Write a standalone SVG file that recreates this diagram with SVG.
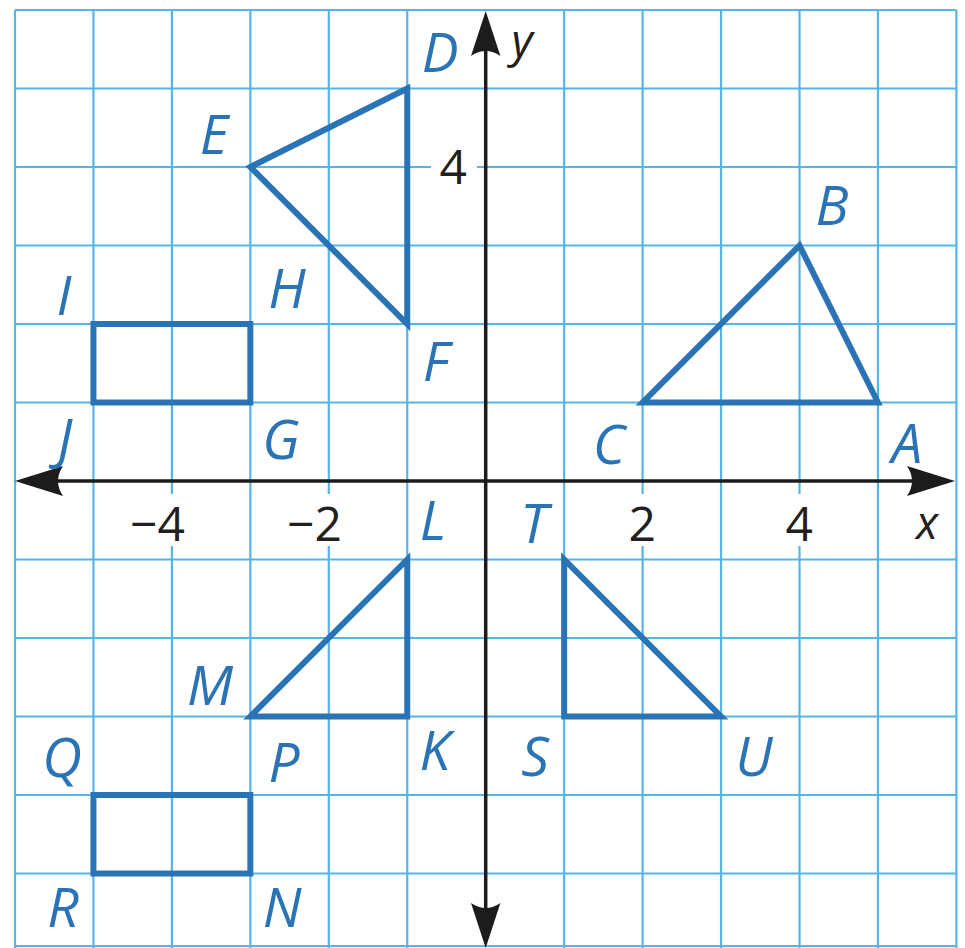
<svg xmlns="http://www.w3.org/2000/svg" width="965" height="948" viewBox="0 0 965 948">
<style>
.grid line{stroke:#55b6e5;stroke-width:2.2}
.mask{fill:#ffffff}
.fig{fill:none;stroke:#2a74b6;stroke-width:6;stroke-linejoin:miter}
.lbl{font-family:"Open Sans","Noto Sans","Liberation Sans",sans-serif;font-style:italic;font-size:55px;fill:#2a74b6;text-anchor:middle}
.num{font-family:"Open Sans","Noto Sans","Liberation Sans",sans-serif;font-size:48px;fill:#231f20;text-anchor:end}
.var{font-family:"Open Sans","Noto Sans","Liberation Sans",sans-serif;font-style:italic;font-size:46px;fill:#231f20;text-anchor:middle}
.axis{stroke:#1c1c1c;stroke-width:3.5;fill:none}
.head{fill:#1c1c1c;stroke:none}
</style>
<rect width="965" height="948" fill="#ffffff"/>
<g id="grid" class="grid">
<line x1="15" y1="10" x2="15" y2="952"/>
<line x1="93.45" y1="10" x2="93.45" y2="952"/>
<line x1="171.9" y1="10" x2="171.9" y2="952"/>
<line x1="250.35" y1="10" x2="250.35" y2="952"/>
<line x1="328.8" y1="10" x2="328.8" y2="952"/>
<line x1="407.25" y1="10" x2="407.25" y2="952"/>
<line x1="564.15" y1="10" x2="564.15" y2="952"/>
<line x1="642.6" y1="10" x2="642.6" y2="952"/>
<line x1="721.05" y1="10" x2="721.05" y2="952"/>
<line x1="799.5" y1="10" x2="799.5" y2="952"/>
<line x1="877.95" y1="10" x2="877.95" y2="952"/>
<line x1="956.4" y1="10" x2="956.4" y2="952"/>
<line x1="15" y1="10" x2="956.4" y2="10"/>
<line x1="15" y1="88.5" x2="956.4" y2="88.5"/>
<line x1="15" y1="167" x2="956.4" y2="167"/>
<line x1="15" y1="245.5" x2="956.4" y2="245.5"/>
<line x1="15" y1="324" x2="956.4" y2="324"/>
<line x1="15" y1="402.5" x2="956.4" y2="402.5"/>
<line x1="15" y1="559.5" x2="956.4" y2="559.5"/>
<line x1="15" y1="638" x2="956.4" y2="638"/>
<line x1="15" y1="716.5" x2="956.4" y2="716.5"/>
<line x1="15" y1="795" x2="956.4" y2="795"/>
<line x1="15" y1="873.5" x2="956.4" y2="873.5"/>
<line x1="15" y1="946" x2="956.4" y2="946"/>
</g>
<g id="label-masks" class="mask">
<rect x="117" y="494" width="72" height="52"/>
<rect x="274" y="494" width="70" height="52"/>
<rect x="625" y="494" width="35" height="52"/>
<rect x="781" y="494" width="36" height="52"/>
<rect x="431" y="146" width="46" height="44"/>
</g>
<g id="axes">
<line class="axis" x1="55" y1="481" x2="915" y2="481"/>
<line class="axis" x1="485.7" y1="50" x2="485.7" y2="910"/>
<path class="head" d="M955,481 L907,466 Q917,481 907,496 Z"/>
<path class="head" d="M15,481 L63,466 Q53,481 63,496 Z"/>
<path class="head" d="M485.7,11 L471,56 Q485.7,46 500.4,56 Z"/>
<path class="head" d="M485.7,948 L471,903 Q485.7,913 500.4,903 Z"/>
<text class="num" x="185" y="541">−4</text>
<text class="num" x="342" y="541">−2</text>
<text class="num" x="656" y="541">2</text>
<text class="num" x="813" y="541">4</text>
<text class="num" x="467" y="184">4</text>
<text class="var" x="927" y="539">x</text>
<text class="var" x="522" y="57">y</text>
</g>
<g id="triangle-ABC">
<polygon class="fig" points="877.95,402.5 799.5,245.5 642.6,402.5"/>
<text class="lbl" x="907" y="463">A</text>
<text class="lbl" x="832" y="225">B</text>
<text class="lbl" x="609" y="464">C</text>
</g>
<g id="triangle-DEF">
<polygon class="fig" points="407.25,88.5 250.35,167 407.25,324"/>
<text class="lbl" x="440" y="72">D</text>
<text class="lbl" x="214" y="154">E</text>
<text class="lbl" x="436" y="381">F</text>
</g>
<g id="rectangle-IHGJ">
<rect class="fig" x="93.45" y="324" width="156.9" height="78.5"/>
<text class="lbl" x="64" y="315">I</text>
<text class="lbl" x="287" y="308">H</text>
<text class="lbl" x="281" y="459">G</text>
<text class="lbl" x="65" y="458">J</text>
</g>
<g id="triangle-LMK">
<polygon class="fig" points="407.25,559.5 250.35,716.5 407.25,716.5"/>
<text class="lbl" x="433" y="540">L</text>
<text class="lbl" x="210" y="705">M</text>
<text class="lbl" x="435" y="770">K</text>
</g>
<g id="triangle-TSU">
<polygon class="fig" points="564.15,559.5 564.15,716.5 721.05,716.5"/>
<text class="lbl" x="534" y="543">T</text>
<text class="lbl" x="535" y="776">S</text>
<text class="lbl" x="754" y="776">U</text>
</g>
<g id="rectangle-QPNR">
<rect class="fig" x="93.45" y="795" width="156.9" height="78.5"/>
<text class="lbl" x="62" y="777">Q</text>
<text class="lbl" x="284" y="782">P</text>
<text class="lbl" x="282" y="927">N</text>
<text class="lbl" x="63" y="927">R</text>
</g>
</svg>
